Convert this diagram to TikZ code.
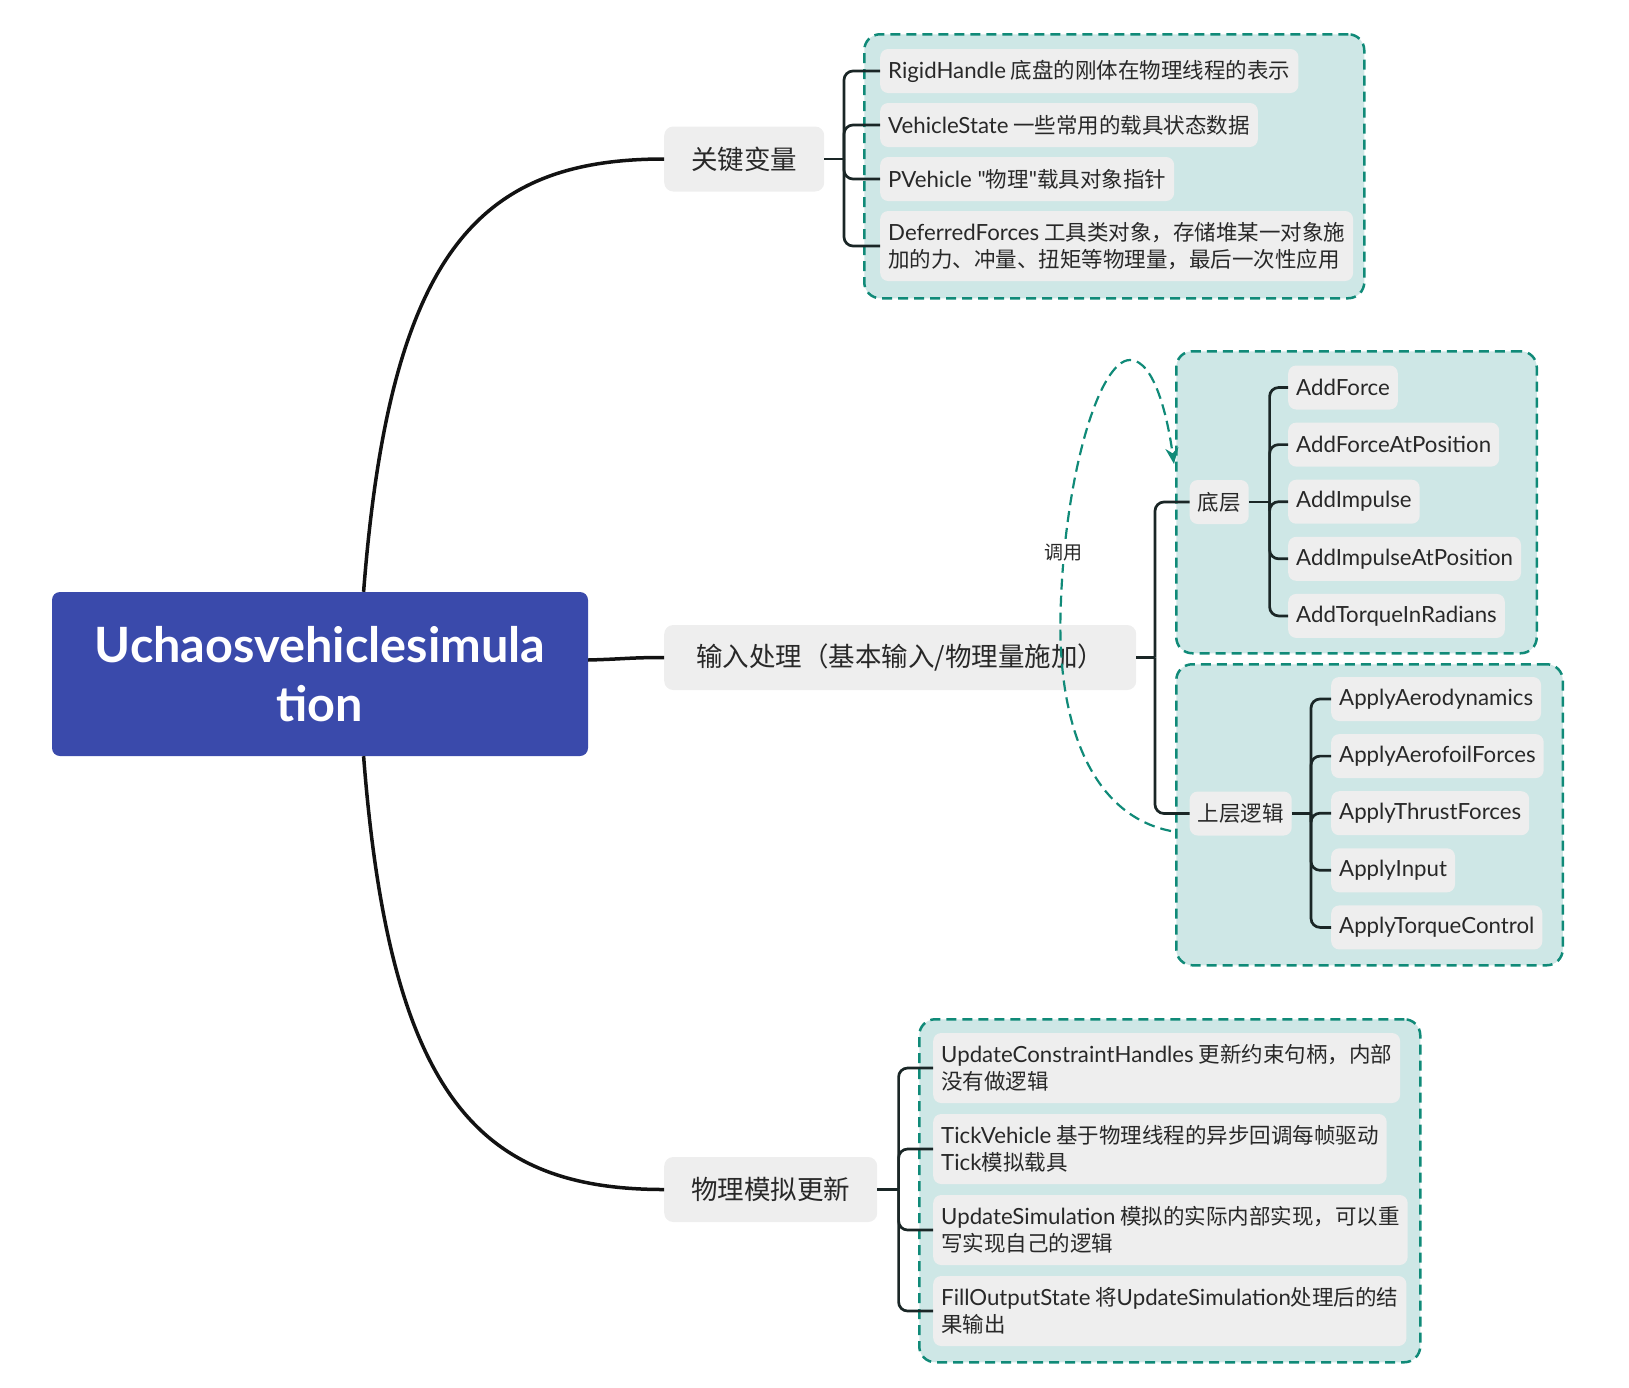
\documentclass[tikz,border=0pt]{standalone}
\usepackage{fontspec}
\setmainfont{Noto Sans CJK SC}
\newfontfamily\latfont[Scale=1.035]{Lato}
\usepackage{tikz}
\usetikzlibrary{
  arrows.meta,
  positioning,
  calc
}
\usepackage{xcolor}
\definecolor{rootblue}{RGB}{58,74,171}
\definecolor{leafgray}{RGB}{238,238,238}
\definecolor{grpfill}{RGB}{206,231,230}
\definecolor{grpline}{RGB}{16,138,120}
\definecolor{inkdark}{RGB}{40,40,40}
\definecolor{linkdark}{RGB}{26,38,38}
\newcommand{\lat}[1]{{\latfont #1}}

\begin{document}
\begin{tikzpicture}[x=1pt,y=-1pt,
  rootbox/.style={fill=rootblue, rounded corners=8pt, minimum width=536pt,
    minimum height=164pt, align=center, text=white,
    font=\fontsize{47}{59}\selectfont\latfont\bfseries},
  topic/.style={fill=leafgray, rounded corners=9pt, minimum height=65pt,
    inner xsep=27pt, text=inkdark, anchor=west,
    font=\fontsize{26.5}{32}\selectfont},
  leaf/.style={fill=leafgray, rounded corners=8pt, minimum height=44pt,
    inner xsep=8pt, text=inkdark, anchor=west, align=left,
    font=\fontsize{21.5}{27}\selectfont},
  leaftwo/.style={leaf, minimum height=70pt},
  leafen/.style={leaf, font=\fontsize{21.5}{27}\selectfont\latfont},
  grp/.style={fill=grpfill, draw=grpline, line width=2.5pt,
    dash pattern=on 10pt off 6pt, rounded corners=16pt,
    anchor=north west, inner sep=0pt},
  trunk/.style={draw=black!93, line width=3.5pt},
  twig/.style={draw=linkdark, line width=2.7pt, rounded corners=9pt},
  callarrow/.style={draw=grpline, line width=2.2pt,
    dash pattern=on 11pt off 6pt, -{Stealth[length=16pt,width=13pt]}}
]
\useasboundingbox (0,0) rectangle (1629,1387);

% dashed group frames
\node[grp, minimum width=500pt, minimum height=264pt] (g1) at (863,33) {};
\node[grp, minimum width=360.5pt, minimum height=302pt] (g2a) at (1175,350) {};
\node[grp, minimum width=386.5pt, minimum height=301pt] (g2b) at (1175,663) {};
\node[grp, minimum width=501pt, minimum height=343pt] (g3) at (918,1018) {};

% root and topics
\node[rootbox] (root) at (320,674) {Uchaosvehiclesimula\\tion};
\node[topic] (keyvars) at (664,159) {关键变量};
\node[topic, minimum width=472pt] (input) at (664,657.5) {输入处理（基本输入/物理量施加）};
\node[topic] (simupd) at (664,1189.5) {物理模拟更新};

% key variables
\node[leaf] (rigid) at (880,71) {\lat{RigidHandle} 底盘的刚体在物理线程的表示};
\node[leaf] (vstate) at (880,125) {\lat{VehicleState} 一些常用的载具状态数据};
\node[leaf] (pveh) at (880,179) {\lat{PVehicle "}物理\lat{"}载具对象指针};
\node[leaftwo] (deferred) at (880,246) {\lat{DeferredForces} 工具类对象，存储堆某一对象施\\加的力、冲量、扭矩等物理量，最后一次性应用};

% input handling
\node[leaf] (lowl) at (1189.5,502) {底层};
\node[leaf] (upl) at (1189.5,813.5) {上层逻辑};
\foreach \nm/\txt [count=\i from 0] in {addf/AddForce, addfp/AddForceAtPosition,
    addi/AddImpulse, addip/AddImpulseAtPosition, addt/AddTorqueInRadians}
  \node[leafen] (\nm) at (1288,387.5+57.1*\i) {\txt};
\foreach \nm/\txt [count=\i from 0] in {aero/ApplyAerodynamics, foil/ApplyAerofoilForces,
    thrust/ApplyThrustForces, ainput/ApplyInput, torque/ApplyTorqueControl}
  \node[leafen] (\nm) at (1331,699+57.1*\i) {\txt};

% simulation update
\node[leaftwo] (uch) at (933,1068) {\lat{UpdateConstraintHandles} 更新约束句柄，内部\\没有做逻辑};
\node[leaftwo] (tickv) at (933,1149) {\lat{TickVehicle} 基于物理线程的异步回调每帧驱动\\\lat{Tick}模拟载具};
\node[leaftwo] (usim) at (933,1230) {\lat{UpdateSimulation} 模拟的实际内部实现，可以重\\写实现自己的逻辑};
\node[leaftwo] (fout) at (933,1311) {\lat{FillOutputState} 将\lat{UpdateSimulation}处理后的结\\果输出};

% trunk curves
\draw[trunk] ([xshift=43.6pt]root.north) .. controls (390,250) and (480,159) .. (keyvars.west);
\draw[trunk] ([xshift=43.6pt]root.south) .. controls (390,1098) and (480,1189.5) .. (simupd.west);
\draw[trunk] ([yshift=14pt]root.east) .. controls (625,659) and (630,657.5) .. (input.west);

% brackets
\coordinate (j1) at (844,159);
\coordinate (j2) at (1155,657.5);
\coordinate (jlow) at (1269.6,502);
\coordinate (jup) at (1311,813.5);
\coordinate (j3) at (898.6,1189.5);
\draw[twig] (keyvars.east) -- (j1);
\foreach \nm in {rigid,vstate,pveh,deferred}
  \draw[twig] (j1) |- (\nm.west);
\draw[twig] (input.east) -- (j2);
\foreach \nm in {lowl,upl}
  \draw[twig] (j2) |- (\nm.west);
\draw[twig] (lowl.east) -- (jlow);
\foreach \nm in {addf,addfp,addi,addip,addt}
  \draw[twig] (jlow) |- (\nm.west);
\draw[twig] (upl.east) -- (jup);
\foreach \nm in {aero,foil,thrust,ainput,torque}
  \draw[twig] (jup) |- (\nm.west);
\draw[twig] (simupd.east) -- (j3);
\foreach \nm in {uch,tickv,usim,fout}
  \draw[twig] (j3) |- (\nm.west);

% call relation
\coordinate (callsrc) at (1171,831);
\coordinate (calldst) at (1174,464);
\draw[callarrow] (callsrc) .. controls (1090,815) and (1055,720) .. (1061,600)
  .. controls (1066,470) and (1100,360) .. (1130,360)
  .. controls (1155,360) and (1168,420) .. (calldst);
\node[fill=white, inner sep=2pt, text=inkdark, font=\fontsize{19}{22}\selectfont] (calllbl) at (1063,553) {调用};
\end{tikzpicture}
\end{document}
